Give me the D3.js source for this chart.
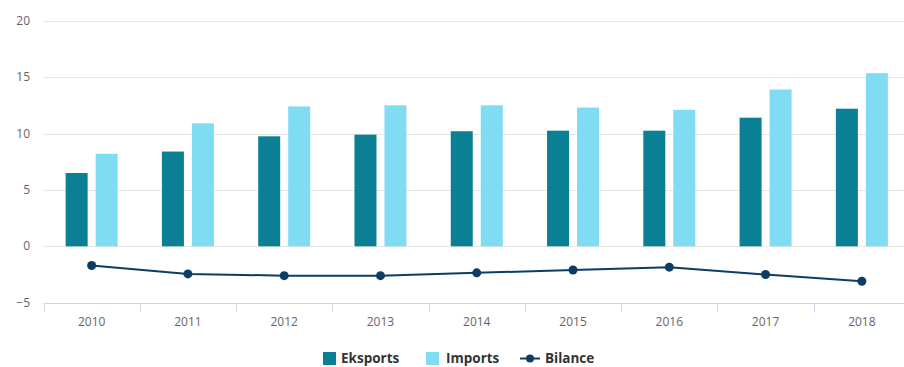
<!DOCTYPE html>
<html><head><meta charset="utf-8">
<script src="https://cdn.jsdelivr.net/npm/d3@7"></script>
<style>body{margin:0;background:#fff;} svg{display:block;font-family:"Open Sans",sans-serif;}</style>
</head><body><svg id="c" width="904" height="367"></svg>
<script>
const years = ["2010","2011","2012","2013","2014","2015","2016","2017","2018"];
const eksports = [6.5, 8.4, 9.75, 9.9, 10.2, 10.25, 10.25, 11.4, 12.2];
const imports = [8.2, 10.9, 12.4, 12.5, 12.5, 12.3, 12.1, 13.9, 15.35];
const bilance = [-1.7, -2.45, -2.6, -2.6, -2.35, -2.1, -1.85, -2.5, -3.1];
const yTicks = [-5, 0, 5, 10, 15, 20];
const colors = {eks:"#0b7f93", imp:"#7fdcf2", bil:"#0d3d63"};

const svg = d3.select("#c");
const x = d3.scaleBand().domain(years).range([43.5, 910]);
const y = d3.scaleLinear().domain([-5, 20]).range([302.7, 20.7]);

// grid
svg.append("g").selectAll("line").data(yTicks.filter(d=>d>-5)).join("line")
  .attr("x1",43.5).attr("x2",904).attr("y1",d=>Math.round(y(d))+0.5).attr("y2",d=>Math.round(y(d))+0.5)
  .attr("stroke","#e6e6e6").attr("stroke-width",1);
// y labels
svg.append("g").selectAll("text").data(yTicks).join("text")
  .attr("x",30).attr("y",d=>y(d)+4).attr("text-anchor","end")
  .attr("font-size",12).attr("fill","#666").text(d=>d<0?"\u2212"+Math.abs(d):d);

// x axis
const xAxis = svg.append("g").attr("transform",`translate(0,${Math.round(y(-5))+0.5})`);
xAxis.append("line").attr("x1",43.5).attr("x2",904).attr("stroke","#ccd6eb");
xAxis.selectAll("line.tick").data(years).join("line").attr("class","tick")
  .attr("x1",d=>Math.round(x(d))+0.5).attr("x2",d=>Math.round(x(d))+0.5).attr("y1",0).attr("y2",8)
  .attr("stroke","#ccd6eb");
xAxis.selectAll("text").data(years).join("text")
  .attr("x",d=>x(d)+x.bandwidth()/2).attr("y",22).attr("text-anchor","middle")
  .attr("font-size",12).attr("fill","#666").text(d=>d);

// bars
const bw = 22, gap = 8;
svg.append("g").selectAll("rect").data(years).join("rect")
  .attr("x",(d)=>x(d)+x.bandwidth()/2-gap/2-bw).attr("width",bw)
  .attr("y",(d,i)=>y(eksports[i])).attr("height",(d,i)=>y(0)-y(eksports[i]))
  .attr("fill",colors.eks);
svg.append("g").selectAll("rect").data(years).join("rect")
  .attr("x",(d)=>x(d)+x.bandwidth()/2+gap/2).attr("width",bw)
  .attr("y",(d,i)=>y(imports[i])).attr("height",(d,i)=>y(0)-y(imports[i]))
  .attr("fill",colors.imp);

// line
const line = d3.line().x((d,i)=>x(years[i])+x.bandwidth()/2).y(d=>y(d));
svg.append("path").datum(bilance).attr("d",line).attr("fill","none")
  .attr("stroke",colors.bil).attr("stroke-width",2);
svg.append("g").selectAll("circle").data(bilance).join("circle")
  .attr("cx",(d,i)=>x(years[i])+x.bandwidth()/2).attr("cy",d=>y(d)).attr("r",4.5)
  .attr("fill",colors.bil);

// legend
const lg = svg.append("g").attr("font-size",13.5).attr("font-weight","bold").attr("fill","#333");
lg.append("rect").attr("x",323).attr("y",352).attr("width",13).attr("height",13).attr("fill",colors.eks);
lg.append("text").attr("x",341).attr("y",362.5).text("Eksports");
lg.append("rect").attr("x",426).attr("y",352).attr("width",13).attr("height",13).attr("fill",colors.imp);
lg.append("text").attr("x",446).attr("y",362.5).text("Imports");
lg.append("line").attr("x1",520).attr("x2",540).attr("y1",358.5).attr("y2",358.5).attr("stroke",colors.bil).attr("stroke-width",2);
lg.append("circle").attr("cx",530).attr("cy",358.5).attr("r",4).attr("fill",colors.bil);
lg.append("text").attr("x",545).attr("y",362.5).text("Bilance");
</script></body></html>
